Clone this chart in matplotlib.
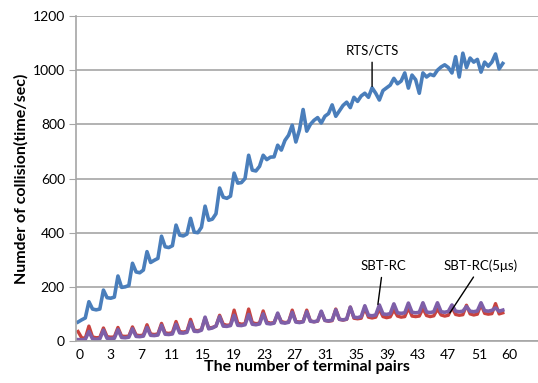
import numpy as np
import matplotlib
matplotlib.use("Agg")
import matplotlib.pyplot as plt

# values, one sample every ~1/4 of a spike period
rts_cts = [70, 78, 85, 145,
           118, 115, 118, 188,
           160, 158, 162, 240,
           198, 200, 205, 287,
           255, 252, 262, 330,
           290, 298, 305, 387,
           348, 345, 352, 428,
           391, 388, 395, 453,
           402, 400, 420, 498,
           446, 450, 470, 565,
           531, 527, 535, 620,
           583, 585, 600, 686,
           631, 628, 645, 686,
           670, 679, 680, 723,
           705, 741, 760, 797,
           735, 780, 855, 775,
           800, 815, 825, 805,
           830, 840, 872, 830,
           850, 870, 882, 862,
           900, 885, 905, 915,
           900, 935, 915, 890,
           925, 935, 945, 970,
           950, 960, 990, 934,
           982, 965, 915, 990,
           975, 985, 980, 1000,
           1012, 1020, 1010, 990,
           1050, 975, 1063, 1010,
           1045, 1030, 1040, 993,
           1030, 1015, 1030, 1060,
           1005, 1025]

sbt_rc = [35, 12, 10, 55,
          15, 12, 13, 48,
          16, 14, 15, 50,
          18, 17, 18, 52,
          22, 20, 22, 60,
          26, 24, 26, 65,
          30, 28, 31, 72,
          35, 33, 36, 80,
          40, 38, 42, 85,
          48, 50, 55, 95,
          62, 58, 60, 114,
          66, 62, 64, 118,
          68, 64, 66, 111,
          70, 66, 68, 100,
          72, 68, 70, 114,
          72, 70, 72, 114,
          74, 71, 73, 108,
          76, 73, 75, 118,
          80, 77, 80, 125,
          84, 82, 84, 122,
          88, 85, 88, 118,
          90, 86, 89, 115,
          92, 88, 90, 122,
          92, 90, 92, 120,
          94, 90, 93, 118,
          96, 92, 95, 125,
          98, 95, 97, 132,
          100, 96, 99, 135,
          102, 99, 101, 138,
          100, 104]

sbt_rc_5us = [5, 4, 6, 35,
              8, 6, 8, 40,
              10, 9, 10, 42,
              13, 12, 14, 45,
              17, 16, 18, 50,
              21, 20, 22, 58,
              25, 24, 26, 62,
              30, 29, 32, 70,
              36, 35, 40, 88,
              45, 48, 55, 90,
              55, 54, 57, 95,
              58, 57, 60, 98,
              62, 60, 63, 100,
              65, 63, 66, 103,
              68, 66, 69, 106,
              70, 68, 71, 108,
              73, 71, 74, 110,
              76, 74, 77, 115,
              80, 78, 81, 125,
              88, 86, 90, 130,
              95, 93, 96, 133,
              100, 98, 101, 137,
              104, 102, 104, 140,
              106, 104, 106, 141,
              107, 105, 108, 141,
              108, 106, 109, 133,
              110, 108, 110, 127,
              110, 108, 111, 141,
              112, 110, 113, 122,
              110, 114]

tick_labels = ["0", "3", "7", "11", "15", "19", "23", "27", "31", "35",
               "39", "43", "47", "51", "60"]

plt.rcParams["font.family"] = ["Lato", "DejaVu Sans"]

fig = plt.figure(figsize=(5.38, 3.83), dpi=100)
ax = fig.add_axes([0.1413, 0.1097, 0.8587, 0.8483])

x = np.arange(len(rts_cts))
ax.plot(x, rts_cts, color="#4A7EBB", lw=2.6, solid_joinstyle="round")
ax.plot(x, sbt_rc, color="#C8433F", lw=2.4, solid_joinstyle="round")
ax.plot(x, sbt_rc_5us, color="#7E5FA8", lw=2.6, solid_joinstyle="round")

ax.set_ylim(0, 1200)
ax.set_yticks(range(0, 1201, 200))
ax.set_xlim(-0.55, 126.7)
ax.set_xticks(np.linspace(0.55, 118.9, len(tick_labels)))
ax.set_xticklabels(tick_labels)

ax.grid(axis="y", color="#A6A6A6", lw=1.2)
ax.set_axisbelow(True)
for s in ["top", "right"]:
    ax.spines[s].set_visible(False)
for s in ["left", "bottom"]:
    ax.spines[s].set_color("#A6A6A6")
    ax.spines[s].set_linewidth(1.2)
ax.tick_params(axis="y", length=5, color="#A6A6A6", labelsize=10, pad=3)
ax.tick_params(axis="x", length=0, labelsize=10, pad=6)

ax.set_xlabel("The number of terminal pairs", fontsize=11.5, fontweight="bold", labelpad=-1)
ax.set_ylabel("Numder of collision(time/sec)", fontsize=11.5, fontweight="bold", labelpad=3)

# callouts
ax.annotate("RTS/CTS", xy=(81, 930), xytext=(81, 1050), fontsize=9.5,
            ha="center", va="bottom",
            arrowprops=dict(arrowstyle="-", color="black", lw=1))
ax.annotate("SBT-RC", xy=(82.5, 125), xytext=(84, 255), fontsize=9.5,
            ha="center", va="bottom",
            arrowprops=dict(arrowstyle="-", color="black", lw=1))
ax.annotate("SBT-RC(5\u03bcs)", xy=(102, 95), xytext=(111, 255), fontsize=9.5,
            ha="center", va="bottom",
            arrowprops=dict(arrowstyle="-", color="black", lw=1))

fig.savefig("out.png", dpi=100)
